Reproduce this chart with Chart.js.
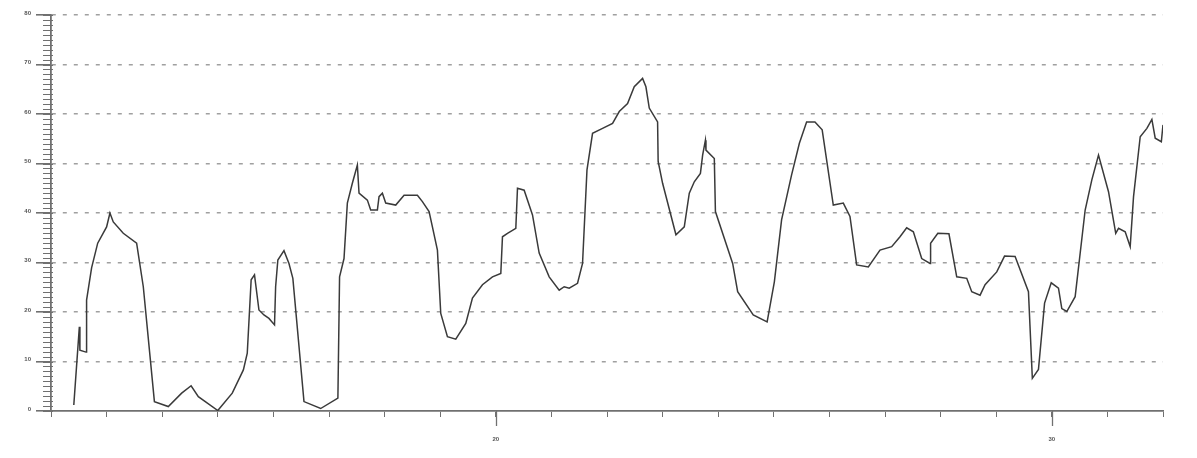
<!DOCTYPE html>
<html>
<head>
<meta charset="utf-8">
<script src="https://cdn.jsdelivr.net/npm/chart.js@4.4.1/dist/chart.umd.min.js"></script>
<style>
  html, body { margin: 0; padding: 0; background: #ffffff; }
  #wrap { width: 1197px; height: 458px; }
</style>
</head>
<body>
<div id="wrap"><canvas id="c" width="1197" height="458"></canvas></div>
<script>
// Series: x positions (axis units) and values
const xValues = [12.41,12.51,12.52,12.63,12.64,12.73,12.84,13.00,13.06,13.12,13.30,13.54,13.66,13.86,14.11,14.35,14.52,14.65,15.00,15.26,15.46,15.53,15.60,15.66,15.74,15.83,15.92,16.02,16.04,16.08,16.19,16.28,16.35,16.55,16.85,17.16,17.19,17.27,17.33,17.42,17.51,17.54,17.69,17.75,17.87,17.90,17.96,18.02,18.20,18.35,18.59,18.68,18.80,18.86,18.95,19.01,19.13,19.28,19.46,19.58,19.76,19.94,20.09,20.12,20.21,20.36,20.39,20.51,20.66,20.78,20.96,21.14,21.23,21.32,21.47,21.56,21.64,21.74,21.92,22.10,22.22,22.37,22.49,22.64,22.70,22.76,22.91,22.92,23.00,23.24,23.39,23.48,23.57,23.68,23.72,23.77,23.78,23.93,23.95,24.26,24.35,24.63,24.88,25.01,25.14,25.32,25.46,25.59,25.74,25.87,26.07,26.25,26.37,26.49,26.70,26.91,27.12,27.27,27.39,27.51,27.66,27.81,27.82,27.95,28.15,28.29,28.47,28.56,28.71,28.80,29.01,29.15,29.34,29.58,29.65,29.76,29.87,29.99,30.12,30.18,30.27,30.42,30.60,30.72,30.84,31.02,31.15,31.20,31.32,31.41,31.47,31.59,31.71,31.80,31.86,31.97,32.00];
const yValues = [1.2,17,12.3,11.9,22.4,28.9,33.9,37.2,40,38.2,35.9,33.9,25.1,1.9,0.9,3.6,5.1,2.9,0.1,3.6,8.3,11.7,26.5,27.5,20.4,19.4,18.7,17.4,25.1,30.5,32.4,29.8,26.8,1.9,0.5,2.6,27.1,30.8,42,46,49.7,44,42.6,40.6,40.6,43.3,44,42,41.6,43.6,43.6,42.3,40.3,37.2,32.5,19.7,15,14.5,17.7,22.8,25.5,27.1,27.8,35.2,35.9,36.9,45,44.6,39.6,31.9,27.1,24.4,25.1,24.8,25.8,29.8,48.7,56.1,57.1,58.1,60.5,62.1,65.5,67.2,65.5,61.2,58.4,50.4,46,35.6,37.2,44,46.3,48,51.7,54.7,52.7,51,40.3,29.8,24.1,19.4,18,26.1,38.6,47.7,54.1,58.4,58.4,56.8,41.6,42,39.3,29.5,29.1,32.5,33.2,35.2,37,36.2,30.8,29.8,33.9,35.9,35.8,27.1,26.8,24.1,23.4,25.5,28.1,31.3,31.2,24.1,6.6,8.4,21.8,25.9,24.8,20.7,20.1,23.1,40.6,46.7,51.7,44.3,35.9,36.9,36.2,33.2,43.3,55.4,57.1,58.9,55.1,54.4,57.8];

// Axis tick definitions
const xMin = 12, xMax = 32, xStep = 1;
const xLabelTicks = [20, 30];
const yMin = 0, yMax = 80, yStep = 10, yMinorStep = 1;

const points = xValues.map((x, i) => ({ x: x, y: yValues[i] }));

const ticksPlugin = {
  id: 'extraTicks',
  afterDraw(chart) {
    const ctx = chart.ctx;
    const xs = chart.scales.x, ys = chart.scales.y;
    const axisX = ys.right;
    const axisY = xs.top;
    ctx.save();
    ctx.setLineDash([]);
    ctx.strokeStyle = '#707070';
    ctx.lineWidth = 1;
    // minor y ticks
    for (let v = yMin; v <= yMax; v += yMinorStep) {
      const py = Math.round(ys.getPixelForValue(v)) + 0.5;
      ctx.beginPath();
      ctx.moveTo(axisX - 8, py);
      ctx.lineTo(axisX + 2, py);
      ctx.stroke();
    }
    // major x ticks
    ctx.lineWidth = 1.3;
    xLabelTicks.forEach(v => {
      const px = Math.round(xs.getPixelForValue(v)) + 0.5;
      ctx.beginPath();
      ctx.moveTo(px, axisY);
      ctx.lineTo(px, axisY + 15);
      ctx.stroke();
    });
    ctx.restore();
  }
};

new Chart(document.getElementById('c'), {
  type: 'line',
  data: {
    datasets: [{
      data: points,
      borderColor: '#3a3a3a',
      borderWidth: 1.5,
      pointRadius: 0,
      tension: 0,
      fill: false
    }]
  },
  options: {
    responsive: false,
    animation: false,
    plugins: { legend: { display: false }, tooltip: { enabled: false } },
    layout: { padding: { top: 15, right: 34, bottom: 0, left: 0 } },
    scales: {
      x: {
        type: 'linear',
        min: xMin, max: xMax,
        afterFit(scale) { scale.height = 47; },
        border: { display: true, color: '#707070', width: 1.8 },
        grid: { drawOnChartArea: false, drawTicks: true, tickLength: 6, color: '#707070', lineWidth: 1 },
        ticks: {
          stepSize: xStep, autoSkip: false, maxRotation: 0,
          padding: 19,
          color: '#555',
          font: { family: 'Liberation Sans', size: 6, weight: 'bold' },
          callback: (v) => xLabelTicks.includes(v) ? String(v) : ''
        }
      },
      y: {
        type: 'linear',
        min: yMin, max: yMax,
        afterFit(scale) { scale.width = 51; },
        border: { display: true, color: '#707070', width: 1.8, dash: [4, 7] },
        grid: {
          drawOnChartArea: true, drawTicks: true, tickLength: 15,
          color: (c) => (c.tick && c.tick.value === 0) ? 'rgba(0,0,0,0)' : '#a0a0a0',
          tickColor: '#707070',
          tickBorderDash: [],
          lineWidth: 1.6
        },
        ticks: {
          stepSize: yStep, padding: 5, labelOffset: -2,
          color: '#555',
          font: { family: 'Liberation Sans', size: 6, weight: 'bold' }
        }
      }
    }
  },
  plugins: [ticksPlugin]
});
</script>
</body>
</html>
